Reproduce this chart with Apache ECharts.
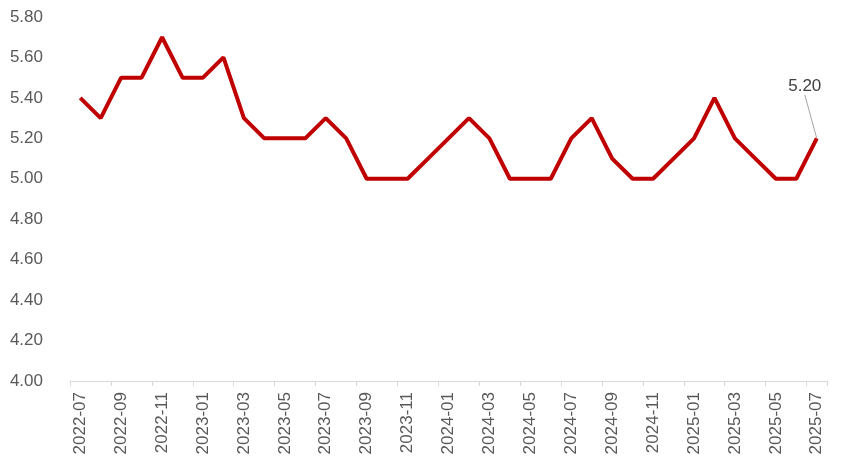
<!DOCTYPE html>
<html><head><meta charset="utf-8">
<script src="https://cdn.jsdelivr.net/npm/echarts@6/dist/echarts.min.js"></script>
<style>html,body{margin:0;padding:0;background:#fff}#c{width:850px;height:472px}</style>
</head><body><div id="c"></div>
<script>
const categories = ['2022-07','2022-08','2022-09','2022-10','2022-11','2022-12',
'2023-01','2023-02','2023-03','2023-04','2023-05','2023-06','2023-07','2023-08','2023-09','2023-10','2023-11','2023-12',
'2024-01','2024-02','2024-03','2024-04','2024-05','2024-06','2024-07','2024-08','2024-09','2024-10','2024-11','2024-12',
'2025-01','2025-02','2025-03','2025-04','2025-05','2025-06','2025-07'];
const values = [5.4,5.3,5.5,5.5,5.7,5.5,
5.5,5.6,5.3,5.2,5.2,5.2,5.3,5.2,5.0,5.0,5.0,5.1,
5.2,5.3,5.2,5.0,5.0,5.0,5.2,5.3,5.1,5.0,5.0,5.1,
5.2,5.4,5.2,5.1,5.0,5.0,5.2];
const yMin = 4.0, yMax = 5.8, yStep = 0.2;

const chart = echarts.init(document.getElementById('c'));
const lastIdx = values.length - 1;
chart.setOption({
  animation: false,
  grid: {left: 70, right: 23, top: 17, bottom: 91},
  xAxis: {
    type: 'category', data: categories, boundaryGap: true,
    axisLine: {lineStyle: {color: '#d9d9d9', width: 1}},
    axisTick: {show: true, interval: 1, length: 5, lineStyle: {color: '#d9d9d9'}},
    axisLabel: {interval: 1, rotate: 90, margin: 11, color: '#595959', fontSize: 17, fontFamily: 'Liberation Sans'}
  },
  yAxis: {
    type: 'value', min: yMin, max: yMax, interval: yStep,
    axisLine: {show: false}, axisTick: {show: false}, splitLine: {show: false},
    axisLabel: {margin: 27, color: '#595959', fontSize: 17, fontFamily: 'Liberation Sans',
      formatter: v => v.toFixed(2)}
  },
  series: [{
    type: 'line', symbol: 'circle', symbolSize: 1, showSymbol: true,
    lineStyle: {color: '#C00000', width: 4},
    itemStyle: {color: 'rgba(0,0,0,0)'},
    data: values.map((v, i) => i === lastIdx ? {
      value: v,
      label: {show: true, position: 'top', formatter: p => Number(p.value).toFixed(2),
        color: '#404040', fontSize: 17, fontFamily: 'Liberation Sans'},
      labelLine: {show: true, lineStyle: {color: '#a6a6a6', width: 1}}
    } : v),
    labelLayout: {dx: -12, dy: -38},
    labelLine: {show: true, lineStyle: {color: '#a6a6a6', width: 1}}
  }]
});
</script></body></html>
